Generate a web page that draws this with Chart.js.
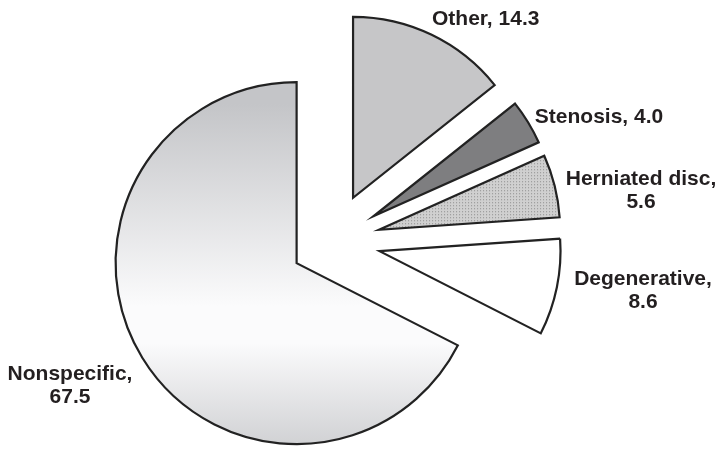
<!DOCTYPE html>
<html>
<head>
<meta charset="utf-8">
<script src="https://cdn.jsdelivr.net/npm/chart.js@4/dist/chart.umd.min.js"></script>
<style>
  html, body { margin: 0; padding: 0; background: #ffffff; }
  #wrap { width: 719px; height: 449px; }
</style>
</head>
<body>
<div id="wrap"><canvas id="pie" width="719" height="449"></canvas></div>
<script>
// Causes of low back pain (%)
const categories = ['Other', 'Stenosis', 'Herniated disc', 'Degenerative', 'Nonspecific'];
const shares = [14.3, 4.0, 5.6, 8.6, 67.5];
// categories whose value goes on a second line
const wrapValue = [false, false, true, true, true];

// exploded distance of each slice (Chart.js "offset" units)
const sliceOffsets = [194, 194, 194, 194, 166];
const PIE_RADIUS = 181;

// label anchors: x, first baseline, alignment
const labelLayout = [
  { x: 432, y: 25, align: 'left' },
  { x: 599, y: 123, align: 'center' },
  { x: 641, y: 185, align: 'center' },
  { x: 643, y: 285, align: 'center' },
  { x: 70, y: 380, align: 'center' }
];

// stippled fill for the herniated disc slice
function dotPattern() {
  const c = document.createElement('canvas');
  c.width = 3; c.height = 3;
  const g = c.getContext('2d');
  g.fillStyle = '#d0d0d0';
  g.fillRect(0, 0, 3, 3);
  g.fillStyle = '#8c8c8c';
  g.fillRect(1, 1, 1, 1);
  return g.createPattern(c, 'repeat');
}
const stipple = dotPattern();

// vertical grey-white-grey shading for the largest slice
function nonspecificFill(chart) {
  const area = chart.chartArea;
  if (!area) return '#e8e8ea';
  const total = shares.reduce((a, b) => a + b, 0);
  const before = shares.slice(0, 4).reduce((a, b) => a + b, 0);
  const mid = -Math.PI / 2 + (before + shares[4] / 2) / total * 2 * Math.PI;
  const cy = (area.top + area.bottom) / 2 + Math.sin(mid) * sliceOffsets[4] / 4;
  const g = chart.ctx.createLinearGradient(0, cy - PIE_RADIUS, 0, cy + PIE_RADIUS);
  g.addColorStop(0, '#c4c5c8');
  g.addColorStop(0.56, '#fbfbfc');
  g.addColorStop(0.66, '#fbfbfc');
  g.addColorStop(1, '#c8c9cc');
  return g;
}

function sliceFill(context) {
  switch (context.dataIndex) {
    case 0: return '#c6c6c8';
    case 1: return '#7e7e80';
    case 2: return stipple;
    case 3: return '#ffffff';
    default: return nonspecificFill(context.chart);
  }
}

// ArcElement grows the radius and trims the arc of an offset slice;
// undo both so every slice keeps the same radius and its true angles
const equalRadius = {
  id: 'equalRadius',
  afterDatasetUpdate(chart, args) {
    args.meta.data.forEach((arc, i) => {
      const shift = sliceOffsets[i] / 4;
      const fix = 1 - Math.sin(Math.min(Math.PI, arc.circumference));
      const grow = shift * fix;
      arc.outerRadius = PIE_RADIUS - grow;
      const trim = (grow / Math.PI) / PIE_RADIUS / 2;
      arc.startAngle -= trim;
      arc.endAngle += trim;
    });
  }
};

// category labels with their values
const sliceLabels = {
  id: 'sliceLabels',
  afterDraw(chart) {
    const ctx = chart.ctx;
    ctx.save();
    ctx.fillStyle = '#231f20';
    ctx.font = 'bold 21px "Liberation Sans", Arial, sans-serif';
    ctx.textBaseline = 'alphabetic';
    categories.forEach((name, i) => {
      const pos = labelLayout[i];
      const value = shares[i].toFixed(1);
      ctx.textAlign = pos.align;
      if (wrapValue[i]) {
        ctx.fillText(name + ',', pos.x, pos.y);
        ctx.fillText(value, pos.x, pos.y + 23);
      } else {
        ctx.fillText(name + ', ' + value, pos.x, pos.y);
      }
    });
    ctx.restore();
  }
};

new Chart(document.getElementById('pie'), {
  type: 'pie',
  data: {
    labels: categories,
    datasets: [{
      data: shares,
      backgroundColor: sliceFill,
      borderColor: '#222222',
      borderWidth: 2.2,
      borderJoinStyle: 'miter',
      offset: sliceOffsets,
      clip: false
    }]
  },
  options: {
    responsive: false,
    animation: false,
    events: [],
    radius: PIE_RADIUS,
    layout: { padding: { left: 0, right: 55, top: 34, bottom: 0 } },
    plugins: {
      legend: { display: false },
      tooltip: { enabled: false }
    }
  },
  plugins: [equalRadius, sliceLabels]
});
</script>
</body>
</html>
